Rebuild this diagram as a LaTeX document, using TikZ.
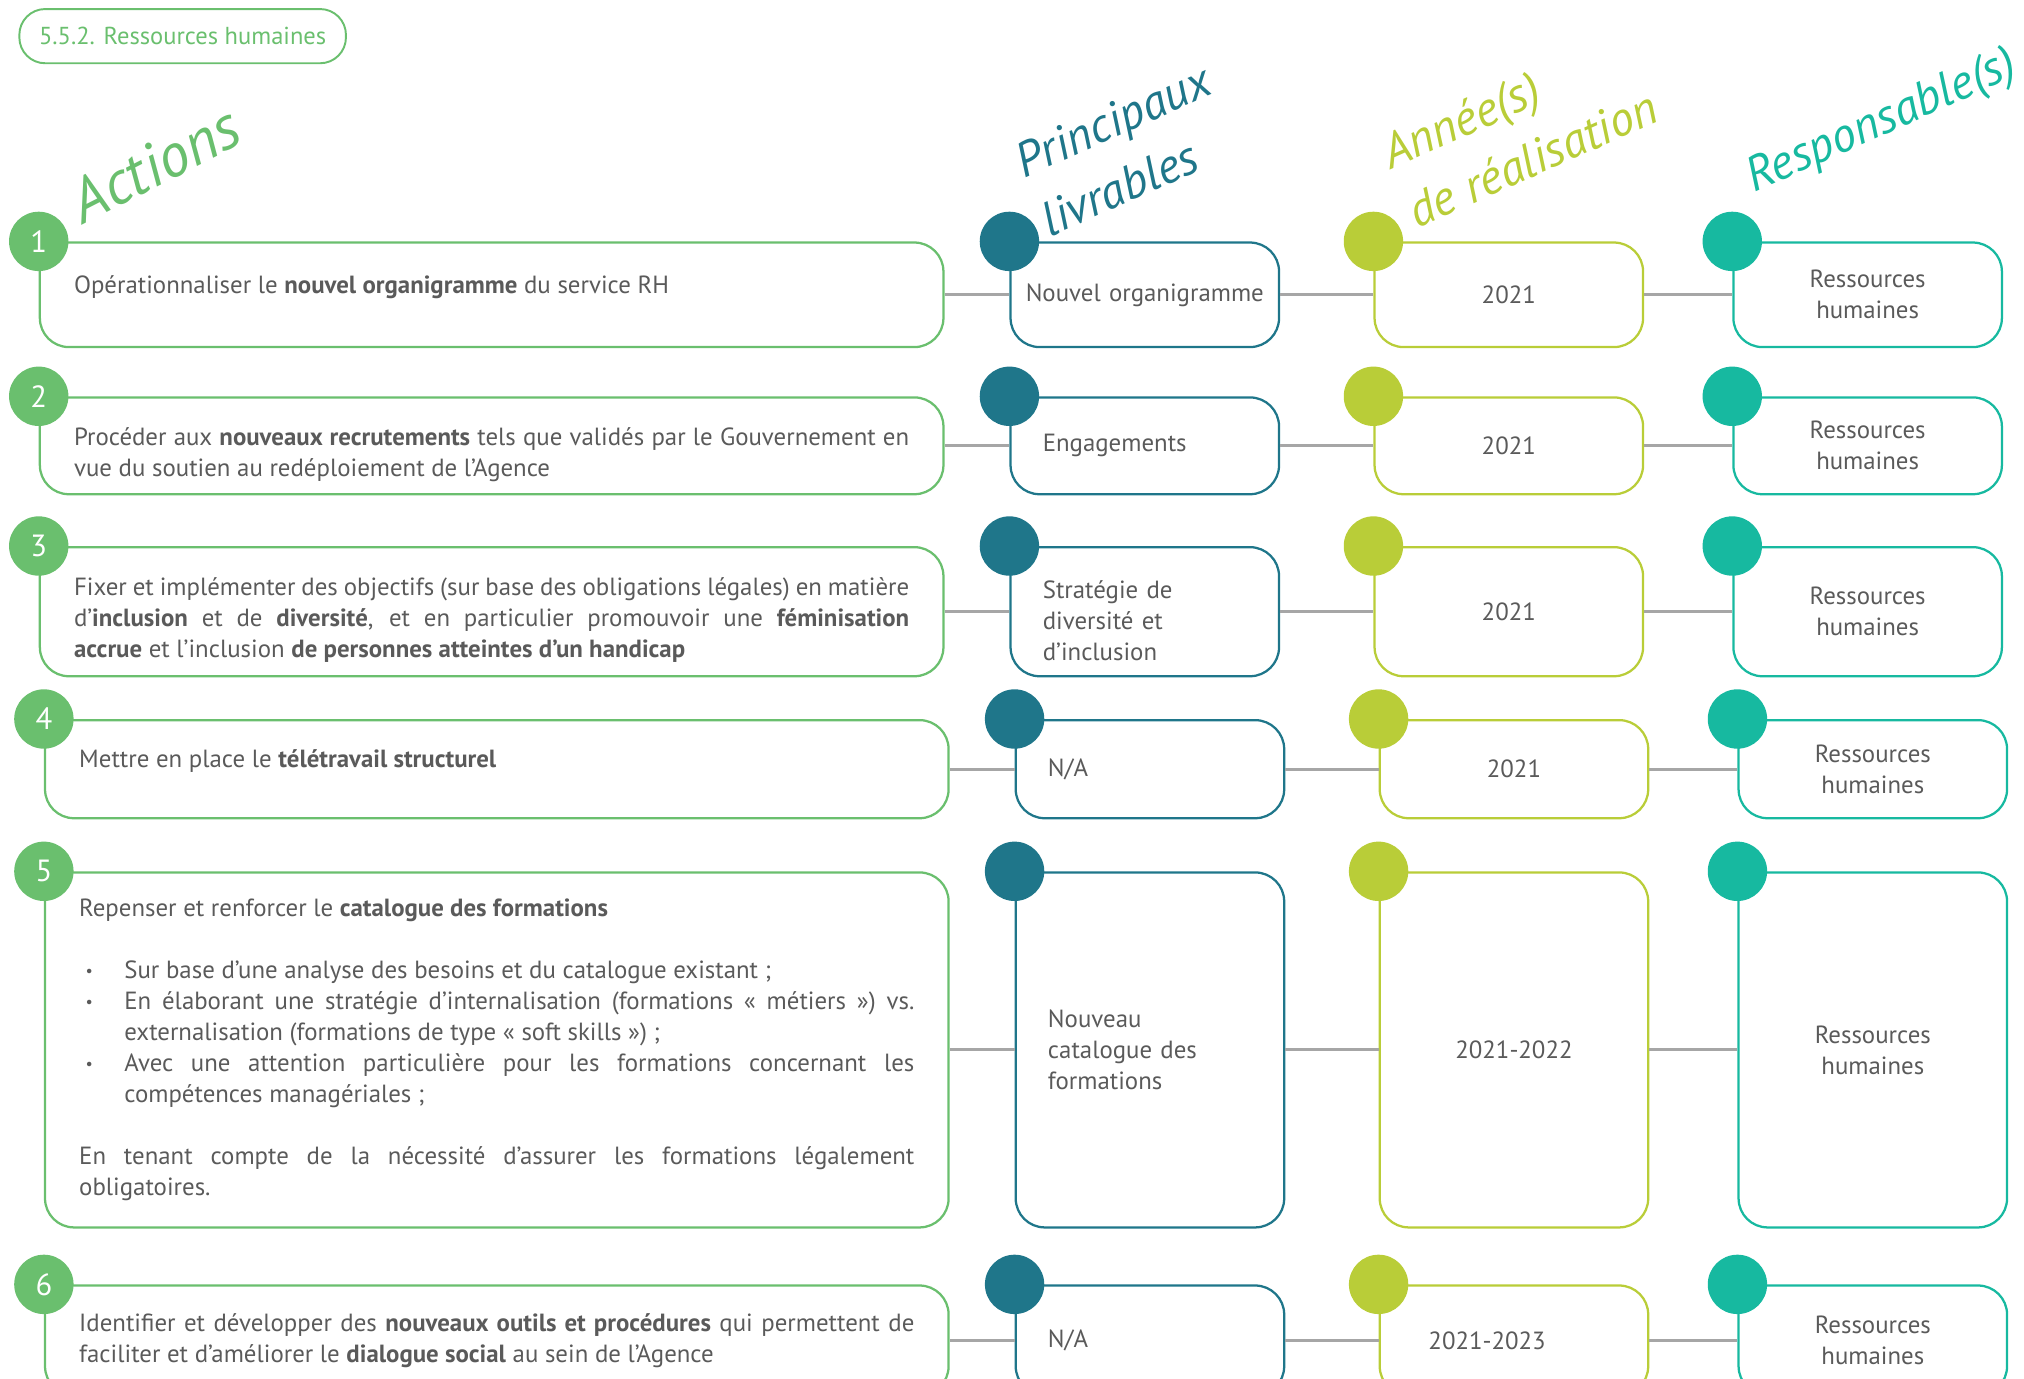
\documentclass[tikz,border=0pt]{standalone}
\usepackage{fontspec}
\setmainfont{PT Sans}[WordSpace={1,1.3,1.6}]
\definecolor{actgreen}{HTML}{6ABF6E}
\definecolor{livblue}{HTML}{1F768A}
\definecolor{anlime}{HTML}{B9CD38}
\definecolor{respteal}{HTML}{17B9A0}
\definecolor{linkgray}{HTML}{A6A6A6}
\definecolor{txtgray}{HTML}{5A5A5A}
\setlength{\parindent}{0pt}
\hyphenpenalty=10000
\exhyphenpenalty=10000
\newcommand{\lowpad}{\rule[-6.5pt]{0pt}{0pt}}
\newcommand{\highpad}[1]{\rule{0pt}{#1}}
\newcommand{\bul}{\noindent\hangindent=14pt\hangafter=1\makebox[14pt][l]{\hspace{2pt}\raisebox{0.6pt}{\fontsize{5}{5}\selectfont\textbullet}}}

\begin{document}
\begin{tikzpicture}[x=0.4pt,y=-0.4pt,
  cellbox/.style={draw,line width=0.7pt,rounded corners=9pt,anchor=north west,minimum width=83.2pt,inner sep=0pt,text=txtgray,font=\fontsize{7.7}{9.6}\selectfont},
  actbox/.style={cellbox,draw=actgreen,minimum width=280pt,text width=258.8pt,align=justify},
  livbox/.style={cellbox,draw=livblue,text width=63.2pt,align=left},
  anbox/.style={cellbox,draw=anlime,text width=63.2pt,align=center},
  respbox/.style={cellbox,draw=respteal,text width=63.2pt,align=center},
  numdot/.style={circle,minimum size=18.4pt,inner sep=0pt,text=white,font=\fontsize{9.5}{10}\selectfont},
  link/.style={draw=linkgray,line width=0.9pt},
  colhead/.style={rotate=24,align=left,font=\fontsize{15}{20}\selectfont\itshape}]
\useasboundingbox (0,0) rectangle (1568,1068);

% titre
\node (title) at (141.5,28) [draw=actgreen,line width=0.6pt,rounded corners=8pt,minimum width=101.2pt,minimum height=16.8pt,text=actgreen,font=\fontsize{7.6}{9}\selectfont] {5.5.2. Ressources humaines};

% en-tetes
\node (hact) at (120,127) [colhead,rotate=3,text=actgreen,font=\fontsize{19}{20}\selectfont\itshape] {Actions};
\node (hliv) at (872,116) [colhead,text=livblue] {Principaux\\livrables};
\node (hann) at (1177,100) [colhead,text=anlime] {Année(s)\\de réalisation};
\node (hresp) at (1458,95) [colhead,text=respteal] {Responsable(s)};

% ligne 1
\node (a1) at (30,187) [actbox,minimum height=32.4pt] {Opérationnaliser le \textbf{nouvel organigramme} du service RH\lowpad};
\node (l1) at (782,187) [livbox,minimum height=32.4pt,text width=80pt,align=center] {Nouvel organigramme};
\node (y1) at (1064,187) [anbox,minimum height=32.4pt] {2021};
\node (r1) at (1342,187) [respbox,minimum height=32.4pt] {Ressources\\humaines};

% ligne 2
\node (a2) at (30,307) [actbox,minimum height=30pt] {\highpad{11pt}Procéder aux \textbf{nouveaux recrutements} tels que validés par le Gouvernement en\linebreak vue du soutien au redéploiement de l'Agence};
\node (l2) at (782,307) [livbox,minimum height=30pt] {Engagements};
\node (y2) at (1064,307) [anbox,minimum height=30pt] {2021};
\node (r2) at (1342,307) [respbox,minimum height=30pt] {Ressources\\humaines};

% ligne 3
\node (a3) at (30,423) [actbox,minimum height=40pt] {\highpad{11pt}Fixer et implémenter des objectifs (sur base des obligations légales) en matière\linebreak d'\textbf{inclusion} et de \textbf{diversité}, et en particulier promouvoir une \textbf{féminisation}\linebreak \textbf{accrue} et l'inclusion \textbf{de personnes atteintes d'un handicap}};
\node (l3) at (782,423) [livbox,minimum height=40pt] {\highpad{11pt}Stratégie de\\diversité et\\d'inclusion};
\node (y3) at (1064,423) [anbox,minimum height=40pt] {2021};
\node (r3) at (1342,423) [respbox,minimum height=40pt] {Ressources\\humaines};

% ligne 4
\node (a4) at (34,557) [actbox,minimum height=30.4pt] {Mettre en place le \textbf{télétravail structurel}\lowpad};
\node (l4) at (786,557) [livbox,minimum height=30.4pt] {N/A};
\node (y4) at (1068,557) [anbox,minimum height=30.4pt] {2021};
\node (r4) at (1346,557) [respbox,minimum height=30.4pt] {Ressources\\humaines};

% ligne 5
\node (a5) at (34,675) [actbox,minimum height=110pt] {Repenser et renforcer le \textbf{catalogue des formations}\par\vspace{9.6pt}
\bul Sur base d'une analyse des besoins et du catalogue existant~;\par
\bul En élaborant une stratégie d'internalisation (formations «~métiers~») vs.\linebreak externalisation (formations de type «~soft skills~»)~;\par
\bul Avec une attention particulière pour les formations concernant les\linebreak compétences managériales~;\par\vspace{9.6pt}
\noindent En tenant compte de la nécessité d'assurer les formations légalement\linebreak obligatoires.};
\node (l5) at (786,675) [livbox,minimum height=110pt] {Nouveau\\catalogue des\\formations};
\node (y5) at (1068,675) [anbox,minimum height=110pt] {2021-2022};
\node (r5) at (1346,675) [respbox,minimum height=110pt] {Ressources\\humaines};

% ligne 6
\node (a6) at (34,995) [actbox,minimum height=34pt] {Identifier et développer des \textbf{nouveaux outils et procédures} qui permettent de\linebreak faciliter et d'améliorer le \textbf{dialogue social} au sein de l'Agence};
\node (l6) at (786,995) [livbox,minimum height=34pt] {N/A};
\node (y6) at (1068,995) [anbox,minimum height=34pt,text width=53pt,align=left] {2021-2023};
\node (r6) at (1346,995) [respbox,minimum height=34pt] {Ressources\\humaines};

% pastilles
\node (a1c) at (a1.north west) [numdot,fill=actgreen] {1};
\node (a2c) at (a2.north west) [numdot,fill=actgreen] {2};
\node (a3c) at (a3.north west) [numdot,fill=actgreen] {3};
\node (a4c) at (a4.north west) [numdot,fill=actgreen] {4};
\node (a5c) at (a5.north west) [numdot,fill=actgreen] {5};
\node (a6c) at (a6.north west) [numdot,fill=actgreen] {6};
\node (l1c) at (l1.north west) [numdot,fill=livblue] {};
\node (l2c) at (l2.north west) [numdot,fill=livblue] {};
\node (l3c) at (l3.north west) [numdot,fill=livblue] {};
\node (l4c) at (l4.north west) [numdot,fill=livblue] {};
\node (l5c) at (l5.north west) [numdot,fill=livblue] {};
\node (l6c) at (l6.north west) [numdot,fill=livblue] {};
\node (y1c) at (y1.north west) [numdot,fill=anlime] {};
\node (y2c) at (y2.north west) [numdot,fill=anlime] {};
\node (y3c) at (y3.north west) [numdot,fill=anlime] {};
\node (y4c) at (y4.north west) [numdot,fill=anlime] {};
\node (y5c) at (y5.north west) [numdot,fill=anlime] {};
\node (y6c) at (y6.north west) [numdot,fill=anlime] {};
\node (r1c) at (r1.north west) [numdot,fill=respteal] {};
\node (r2c) at (r2.north west) [numdot,fill=respteal] {};
\node (r3c) at (r3.north west) [numdot,fill=respteal] {};
\node (r4c) at (r4.north west) [numdot,fill=respteal] {};
\node (r5c) at (r5.north west) [numdot,fill=respteal] {};
\node (r6c) at (r6.north west) [numdot,fill=respteal] {};

% liaisons
\draw [link] (a1) -- (l1);
\draw [link] (l1) -- (y1);
\draw [link] (y1) -- (r1);
\draw [link] (a2) -- (l2);
\draw [link] (l2) -- (y2);
\draw [link] (y2) -- (r2);
\draw [link] (a3) -- (l3);
\draw [link] (l3) -- (y3);
\draw [link] (y3) -- (r3);
\draw [link] (a4) -- (l4);
\draw [link] (l4) -- (y4);
\draw [link] (y4) -- (r4);
\draw [link] (a5) -- (l5);
\draw [link] (l5) -- (y5);
\draw [link] (y5) -- (r5);
\draw [link] (a6) -- (l6);
\draw [link] (l6) -- (y6);
\draw [link] (y6) -- (r6);
\end{tikzpicture}
\end{document}
